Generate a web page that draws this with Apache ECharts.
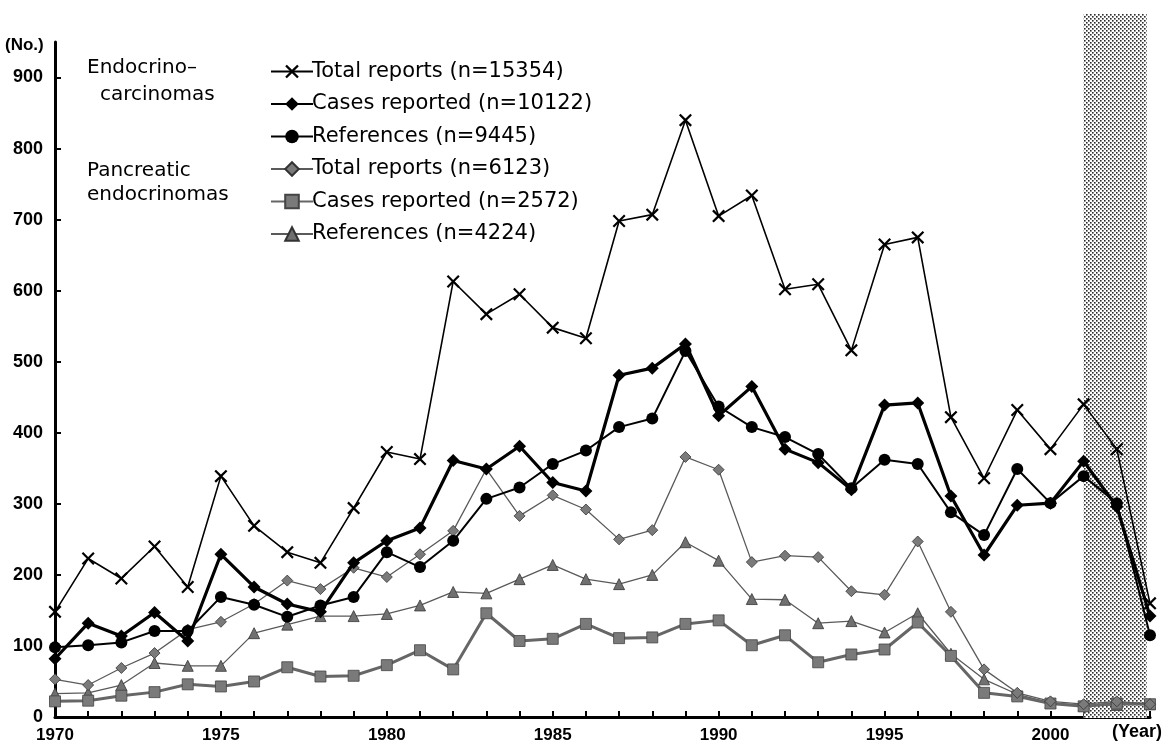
<!DOCTYPE html>
<html><head><meta charset="utf-8">
<script src="https://cdn.jsdelivr.net/npm/echarts@6/dist/echarts.min.js"></script>
<style>html,body{margin:0;padding:0;background:#fff}#c{width:1168px;height:744px}</style>
</head><body><div id="c"></div>
<script>
const years = [];
for (let y = 1970; y <= 2003; y++) years.push(y);
const yTicks = [0,100,200,300,400,500,600,700,800,900];
const xLabelYears = [1970,1975,1980,1985,1990,1995,2000];

const endoTotal = [148,223,195,240,183,339,269,232,217,294,373,363,613,567,595,548,533,698,707,840,705,734,602,609,516,665,675,422,336,432,377,440,377,160];
const endoCases = [82,132,114,147,107,229,183,159,148,217,248,266,361,349,381,330,318,481,491,525,424,465,377,358,320,439,442,311,228,298,301,360,296,142];
const endoRefs  = [98,101,105,121,121,169,158,141,157,169,232,211,248,307,323,356,375,408,420,515,437,408,394,370,322,362,356,288,256,349,301,339,301,115];
const panTotal  = [53,45,69,90,123,134,159,192,180,210,197,229,262,349,283,312,292,250,263,366,348,218,227,225,177,172,247,148,67,34,22,18,22,18];
const panCases  = [22,23,30,35,46,43,50,70,57,58,73,94,67,146,107,110,131,111,112,131,136,101,115,77,88,95,133,86,34,29,19,15,19,18];
const panRefs   = [33,34,45,76,72,72,118,130,142,142,145,157,176,174,194,214,194,187,200,246,220,166,165,132,135,119,146,89,53,32,20,16,17,18];

const names = ['Total reports (n=15354)','Cases reported (n=10122)','References (n=9445)',
               'Total reports (n=6123)','Cases reported (n=2572)','References (n=4224)'];

function pairs(arr){ return arr.map((v,i)=>[years[i], v]); }

// halftone pattern for shaded years
const pc = document.createElement('canvas');
pc.width = 4; pc.height = 4;
const pctx = pc.getContext('2d');
pctx.fillStyle = '#ffffff'; pctx.fillRect(0,0,4,4);
pctx.fillStyle = '#2a2a2a';
pctx.fillRect(0,0,1.6,1.6);
pctx.fillRect(2,2,1.6,1.6);

const crossPath = 'path://M0,1.2L1.2,0L5,3.8L8.8,0L10,1.2L6.2,5L10,8.8L8.8,10L5,6.2L1.2,10L0,8.8L3.8,5Z';
const FONT = 'Liberation Sans';
const TXT = 'DejaVu Sans';

const chart = echarts.init(document.getElementById('c'), null, {renderer:'canvas'});
chart.setOption({
  animation: false,
  backgroundColor: '#fff',
  grid: [
    {left:55, right:18, top:42, bottom:26, containLabel:false},
    {left:55, right:18, top:14, bottom:26, containLabel:false}
  ],
  xAxis: [
    {type:'value', gridIndex:0, min:1970, max:2003, interval:1,
     axisLine:{lineStyle:{color:'#000', width:3}},
     axisTick:{inside:true, length:6, lineStyle:{color:'#000', width:2}},
     axisLabel:{margin:10, color:'#000', fontFamily:FONT, fontWeight:'bold', fontSize:17,
       formatter: v => xLabelYears.indexOf(v) >= 0 ? String(v) : ''},
     splitLine:{show:false}},
    {type:'value', gridIndex:1, min:1970, max:2003, show:false}
  ],
  yAxis: [
    {type:'value', gridIndex:0, min:0, max:950,
     axisLine:{show:true, lineStyle:{color:'#000', width:3}},
     axisTick:{show:true, inside:true, length:6, lineStyle:{color:'#000', width:2}, customValues: yTicks},
     axisLabel:{margin:12, color:'#000', fontFamily:FONT, fontWeight:'bold', fontSize:18, customValues: yTicks},
     splitLine:{show:false}},
    {type:'value', gridIndex:1, min:0, max:1, show:false}
  ],
  legend: {
    orient:'vertical', left:265, top:56,
    itemWidth:42, itemHeight:17, itemGap:11.5,
    textStyle:{fontFamily:TXT, fontSize:21, color:'#000', lineHeight:21, padding:[0,0,0,-6]},
    data: names
  },
  graphic: [
    {type:'text', left:5, top:37, style:{text:'(No.)', font:'bold 17px "Liberation Sans"', fill:'#000'}},
    {type:'text', left:87, top:58, style:{text:'Endocrino–', font:'20px "DejaVu Sans"', fill:'#000'}},
    {type:'text', left:100, top:85, style:{text:'carcinomas', font:'20px "DejaVu Sans"', fill:'#000'}},
    {type:'text', left:87, top:161, style:{text:'Pancreatic', font:'20px "DejaVu Sans"', fill:'#000'}},
    {type:'text', left:87, top:185, style:{text:'endocrinomas', font:'20px "DejaVu Sans"', fill:'#000'}},
    {type:'text', left:1112, top:723, style:{text:'(Year)', font:'bold 18px "Liberation Sans"', fill:'#000'}}
  ],
  series: [
    {type:'line', xAxisIndex:1, yAxisIndex:1, data:[], z:0, silent:true,
     markArea:{silent:true, itemStyle:{color:{image:pc, repeat:'repeat'}, opacity:1},
       data:[[{xAxis:2001, yAxis:0},{xAxis:2002.9, yAxis:1}]]}},
    {name:names[5], type:'line', data:pairs(panRefs), symbol:'triangle', symbolSize:11,
     lineStyle:{color:'#5a5a5a', width:1.3}, itemStyle:{color:'#707070', borderColor:'#333', borderWidth:0.8}, z:3},
    {name:names[4], type:'line', data:pairs(panCases), symbol:'rect', symbolSize:11,
     lineStyle:{color:'#666', width:3}, itemStyle:{color:'#7a7a7a', borderColor:'#444', borderWidth:0.8}, z:3},
    {name:names[3], type:'line', data:pairs(panTotal), symbol:'diamond', symbolSize:11,
     lineStyle:{color:'#5a5a5a', width:1.3}, itemStyle:{color:'#7a7a7a', borderColor:'#333', borderWidth:0.8}, z:3},
    {name:names[2], type:'line', data:pairs(endoRefs), symbol:'circle', symbolSize:12,
     lineStyle:{color:'#000', width:2}, itemStyle:{color:'#000'}, z:4},
    {name:names[1], type:'line', data:pairs(endoCases), symbol:'diamond', symbolSize:13,
     lineStyle:{color:'#000', width:3.2}, itemStyle:{color:'#000'}, z:4},
    {name:names[0], type:'line', data:pairs(endoTotal), symbol:crossPath, symbolSize:13,
     lineStyle:{color:'#000', width:1.6}, itemStyle:{color:'#000'}, z:4}
  ]
});
</script></body></html>
